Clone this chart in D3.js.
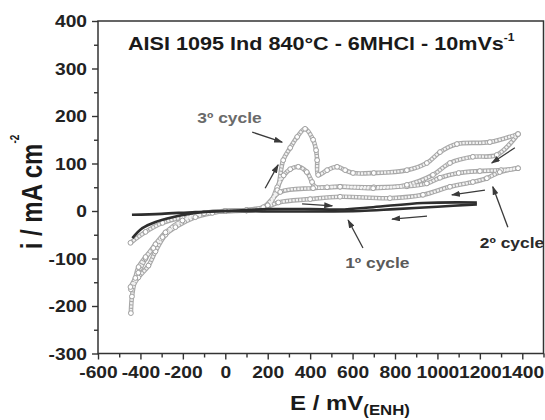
<!DOCTYPE html>
<html><head><meta charset="utf-8">
<script src="https://cdn.jsdelivr.net/npm/d3@7"></script>
<style>
body{margin:0;background:#fff}
text{font-family:Arial,"Liberation Sans",sans-serif;font-weight:bold}
</style>
</head><body><svg id="c" width="545" height="420"></svg>
<script>
// ---- axis ticks ----
const xTicks=[-600,-400,-200,0,200,400,600,800,1000,1200,1400];
const xMinorTicks=[-500,-300,-100,100,300,500,700,900,1100,1300,1500];
const yTicks=[-300,-200,-100,0,100,200,300,400];
const yMinorTicks=[-250,-150,-50,50,150,250,350];

// ---- cycle 1 (dark line) ----
const c1FwdE=[-440,-300,-141,0,200,400,541,697,932,1186];
const c1FwdI=[-8,-6,-2,0,4,4,3,8,17,18];
const c1RevE=[1186,1000,800,635,400,200,0,-141,-249,-329,-391,-438];
const c1RevI=[14,9,4,0,-1,-1,0,-4,-13,-23,-36,-57];

// ---- cycle 2 (open markers) ----
const c2FwdE=[-447,-376,-296,-202,-100,0,100,200,245,275,306,344,384,409,424,480,541,700,856,950,1012,1100,1200,1300,1380];
const c2FwdI=[-67,-44,-25,-13,-4,0,1,10,50,75,88,93,82,61,50,50,51,50,52,58,70,80,84,86,90];
const c2RevE=[1380,1294,1233,1167,1059,932,776,541,400,250,180,100,0,-100,-202,-282,-329,-362,-410,-445];
const c2RevI=[90,82,69,61,51,34,27,30,25,18,5,1,0,-5,-20,-50,-85,-115,-140,-165];

// ---- cycle 3 (open markers) ----
const c3FwdE=[-447,-410,-376,-329,-282,-202,-100,0,100,200,245,273,306,339,376,414,428,433,438,480,527,565,602,700,856,950,1012,1092,1247,1380];
const c3FwdI=[-160,-130,-100,-70,-45,-20,-5,0,2,12,44,107,133,156,173,150,128,107,76,86,93,86,80,80,86,101,124,141,145,162];
const c3RevE=[1380,1280,1167,1059,979,856,697,541,414,259,179,100,0,-61,-141,-235,-296,-339,-376,-409,-424,-440,-445];
const c3RevI=[162,118,114,101,76,55,48,51,48,40,8,2,0,-4,-13,-34,-55,-78,-97,-118,-141,-180,-215];

// ---- annotations (data coordinates) ----
const arrowFrom=[[127,166],[188,48],[362,15],[1365,133],[1224,44],[951,-11],[1332,-34],[649,-78]];
const arrowTo=[[268,145],[249,97],[504,11],[1256,101],[1068,34],[786,-17],[1261,51],[579,-19]];
const labelText=["3º cycle","1º cycle","2º cycle"];
const labelPos=[[-132,185],[565,-120],[1200,-78]];
const labelColor=["#6a6a6a","#5a5a5a","#2a2a2a"];

const svg=d3.select("#c");
const x=d3.scaleLinear().domain([-600,1500]).range([98,543.5]);
const y=d3.scaleLinear().domain([-300,400]).range([353.5,21]);
const SX=1.2; // horizontal text stretch
const fmt=d=>String(d); // plain hyphen minus

const defs=svg.append("defs");
defs.append("marker").attr("id","ah").attr("markerUnits","userSpaceOnUse")
  .attr("markerWidth",9).attr("markerHeight",6).attr("refX",8).attr("refY",3).attr("orient","auto")
  .append("path").attr("d","M0,0L9,3L0,6Z").attr("fill","#3a3a3a");

// axes
const xAxis=svg.append("g").attr("transform",`translate(0,${y(-300)})`)
  .call(d3.axisBottom(x).tickValues(xTicks).tickSize(6).tickFormat(fmt));
svg.append("g").attr("transform",`translate(0,${y(-300)})`)
  .call(d3.axisBottom(x).tickValues(xMinorTicks).tickSize(4).tickFormat(""));
const yAxis=svg.append("g").attr("transform",`translate(${x(-600)},0)`)
  .call(d3.axisLeft(y).tickValues(yTicks).tickSize(6).tickFormat(fmt));
svg.append("g").attr("transform",`translate(${x(-600)},0)`)
  .call(d3.axisLeft(y).tickValues(yMinorTicks).tickSize(4).tickFormat(""));
svg.selectAll(".tick line").attr("stroke","#333").attr("stroke-width",1.4);
svg.selectAll(".domain").remove();
xAxis.selectAll(".tick text").attr("x",0).attr("y",0).attr("dy",0)
  .attr("transform",`translate(0,24.5) scale(${SX},1)`)
  .style("font-size","16px").attr("fill","#222").style("font-family","Arial,'Liberation Sans',sans-serif").style("font-weight","bold");
yAxis.selectAll(".tick text").attr("x",0).attr("dy","0.36em")
  .attr("transform",`translate(-11,0) scale(${SX},1)`)
  .style("font-size","16px").attr("fill","#222").style("font-family","Arial,'Liberation Sans',sans-serif").style("font-weight","bold");

// frame
svg.append("rect").attr("x",x(-600)).attr("y",y(400)).attr("width",x(1500)-x(-600)).attr("height",y(-300)-y(400))
  .attr("fill","none").attr("stroke","#333").attr("stroke-width",1.5);

const zip=(E,I)=>E.map((e,k)=>[e,I[k]]);
const line=d3.line().x(d=>x(d[0])).y(d=>y(d[1])).curve(d3.curveCatmullRom.alpha(0.5));

const markerSeries=[zip(c2FwdE,c2FwdI),zip(c2RevE,c2RevI),zip(c3FwdE,c3FwdI),zip(c3RevE,c3RevI)];
const plot=svg.append("g");
markerSeries.forEach(s=>{
  plot.append("path").attr("d",line(s)).attr("fill","none").attr("stroke","#a8a8a8").attr("stroke-width",4.6);
});
markerSeries.forEach(s=>{
  plot.append("path").attr("d",line(s)).attr("fill","none").attr("stroke","#f2f2f2").attr("stroke-width",2.4)
    .attr("stroke-dasharray","2.2 1.1");
});
markerSeries.forEach(s=>{
  plot.selectAll(null).data(s).enter().append("circle")
    .attr("cx",d=>x(d[0])).attr("cy",d=>y(d[1])).attr("r",2.4)
    .attr("fill","#fff").attr("stroke","#a0a0a0").attr("stroke-width",1);
});
// cycle 1
[zip(c1FwdE,c1FwdI),zip(c1RevE,c1RevI)].forEach(s=>{
  plot.append("path").attr("d",line(s)).attr("fill","none").attr("stroke","#2e2e2e").attr("stroke-width",2.6);
});

// arrows
arrowFrom.forEach((f,k)=>{
  const t=arrowTo[k];
  svg.append("line").attr("x1",x(f[0])).attr("y1",y(f[1])).attr("x2",x(t[0])).attr("y2",y(t[1]))
    .attr("stroke","#3a3a3a").attr("stroke-width",1.3).attr("marker-end","url(#ah)");
});
// labels
labelText.forEach((t,k)=>{
  svg.append("text").attr("transform",`translate(${x(labelPos[k][0])},${y(labelPos[k][1])}) scale(${SX},1)`)
    .style("font-size","14.5px").attr("fill",labelColor[k]).text(t);
});

// title
const title=svg.append("text").attr("transform",`translate(128,50) scale(${SX},1)`).style("font-size","18px").attr("fill","#1a1a1a");
title.append("tspan").text("AISI 1095 Ind 840°C - 6MHCl - 10mVs");
title.append("tspan").attr("dy",-9).style("font-size","10px").text("-1");

// y label
const yl=svg.append("text").attr("transform",`translate(42,192) scale(${SX},1) rotate(-90)`)
  .attr("text-anchor","middle").style("font-size","24px").attr("fill","#1a1a1a");
yl.append("tspan").text("i / mA cm");
yl.append("tspan").attr("dy",-19).style("font-size","10px").text("-2");

// x label
const xl=svg.append("text").attr("transform",`translate(290,410) scale(${SX},1)`).style("font-size","20px").attr("fill","#1a1a1a");
xl.append("tspan").text("E / mV");
xl.append("tspan").attr("dy",5).style("font-size","14px").text("(ENH)");
</script>
</body></html>
